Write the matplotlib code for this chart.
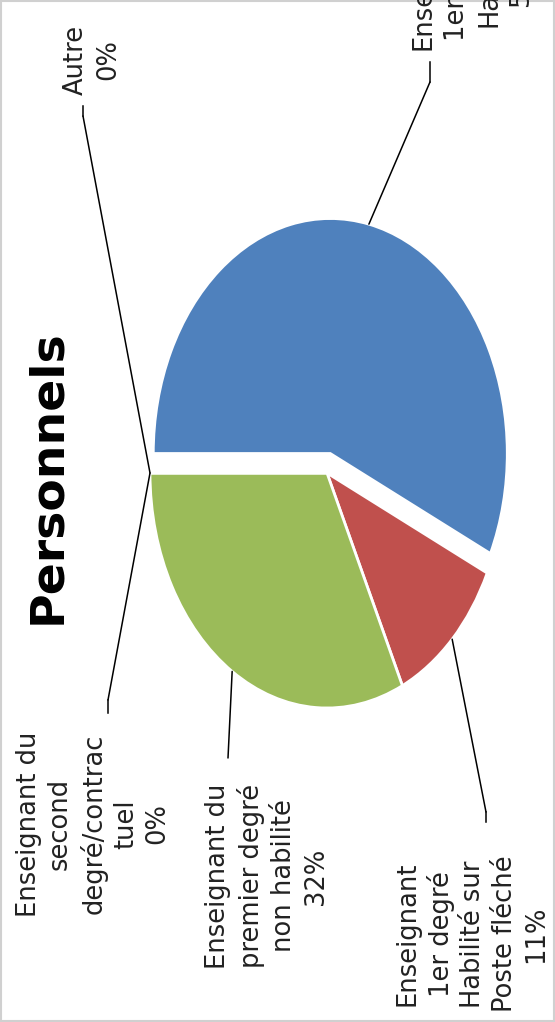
import numpy as np
import matplotlib.pyplot as plt
from matplotlib.patches import Rectangle

# data (order = clockwise from the top of the original chart)
categories = ["Enseignant\n1er degré\nHabilité",
              "Enseignant\n1er degré\nHabilité sur\nPoste fléché",
              "Enseignant du\npremier degré\nnon habilité",
              "Enseignant du\nsecond\ndegré/contrac\ntuel",
              "Autre"]
values = [57, 11, 32, 0, 0]
colors = ["#4F81BD", "#C0504D", "#9BBB59", "#8064A2", "#4BACC6"]
explode = [0.085, 0, 0, 0, 0]

W, H = 555, 1022
fig = plt.figure(figsize=(W / 100, H / 100), dpi=100)
ax = fig.add_axes([0, 0, 1, 1])

# picture is the Excel chart turned a quarter turn, so start at 180 deg
wedges, _ = ax.pie(values, colors=colors, explode=explode, startangle=180,
                   counterclock=False, radius=1,
                   wedgeprops=dict(edgecolor="white", linewidth=2))

# stretched look: pie centre at (327, 473) px, radii 177 x 235 px
cx, cy, rx, ry = 327, 473, 177, 235
ax.set_aspect("auto")
ax.set_xlim(-cx / rx, (W - cx) / rx)
ax.set_ylim(-(H - cy) / ry, cy / ry)
ax.axis("off")

fig.patches.append(Rectangle((0.002, 0.001), 0.996, 0.998, transform=fig.transFigure,
                             fill=False, edgecolor="#d0d0d0", lw=1.5))

fig.text(48 / W, 1 - 477 / H, "Personnels", rotation=90, fontsize=34,
         fontweight="bold", ha="center", va="center")

# label block centre, text end and elbow of the leader (px from top-left)
label_pos = [(472, -22), (472, 934), (267, 876), (93, 824), (92, 60)]
elbows = [[(430, 62), (430, 82)],
          [(486, 822), (486, 812)],
          [(228, 758), (228, 758)],
          [(108, 713), (108, 700)],
          [(83, 106), (83, 116)]]

total = sum(values)
for w, cat, v, (lx, ly), el in zip(wedges, categories, values, label_pos, elbows):
    pct = round(100 * v / total)
    fig.text(lx / W, 1 - ly / H, f"{cat}\n{pct}%", rotation=90, fontsize=18.5,
             ha="center", va="center", multialignment="center", linespacing=1.28,
             color="#222222")
    mid = np.deg2rad((w.theta1 + w.theta2) / 2)
    x0, y0 = w.center
    pt = (x0 + np.cos(mid), y0 + np.sin(mid))
    (ex, ey), (bx, by) = el
    ax.annotate("", xy=pt, xytext=(bx, H - by), textcoords="figure pixels",
                arrowprops=dict(arrowstyle="-", lw=1.1, color="black", shrinkA=0, shrinkB=0))
    ax.plot([ex / W, bx / W], [1 - ey / H, 1 - by / H], color="black", lw=1.1,
            transform=fig.transFigure)

fig.savefig("out.png", dpi=100)
